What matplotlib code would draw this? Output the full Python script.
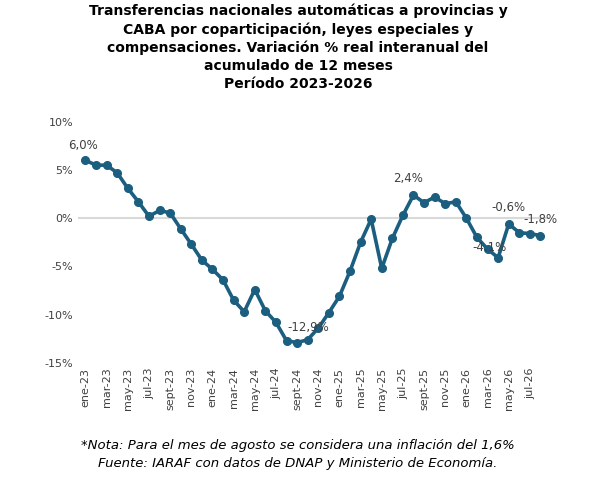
import numpy as np
import matplotlib.pyplot as plt
from matplotlib.ticker import FuncFormatter

meses = ["ene", "feb", "mar", "abr", "may", "jun", "jul", "ago", "sept", "oct", "nov", "dic"]
fechas = [f"{m}-{a}" for a in ["23", "24", "25", "26"] for m in meses][:44]
valores = [6.0, 5.5, 5.5, 4.7, 3.1, 1.7, 0.2, 0.8, 0.55, -1.1, -2.7, -4.35,
           -5.3, -6.4, -8.5, -9.7, -7.4, -9.6, -10.8, -12.7, -12.9, -12.6, -11.4, -9.8,
           -8.1, -5.5, -2.5, -0.1, -5.2, -2.1, 0.3, 2.4, 1.6, 2.2, 1.5, 1.7,
           0.0, -2.0, -3.2, -4.1, -0.6, -1.5, -1.6, -1.8]
etiquetas = {0: "6,0%", 20: "-12,9%", 31: "2,4%", 39: "-4,1%", 40: "-0,6%", 43: "-1,8%"}
desplaz = {0: (-2, 6), 20: (8, 6), 31: (-4, 7), 39: (-6, 3), 40: (0, 7), 43: (0, 7)}

color = "#1b5e80"
fig = plt.figure(figsize=(5.96, 4.93), dpi=100)
ax = fig.add_axes([0.131, 0.264, 0.79, 0.489])
x = np.arange(len(valores))
ax.plot(x, valores, color=color, lw=2.6, marker="o", ms=5.5, zorder=3)
ax.axhline(0, color="#d9d9d9", lw=1.5, zorder=1)
for i, t in etiquetas.items():
    dx, dy = desplaz[i]
    ax.annotate(t, (x[i], valores[i]), xytext=(dx, dy), textcoords="offset points",
                ha="center", va="bottom", fontsize=8.5, color="#404040")

ax.set_ylim(-15, 10)
ax.set_yticks([-15, -10, -5, 0, 5, 10])
ax.yaxis.set_major_formatter(FuncFormatter(lambda v, p: f"{int(v)}%"))
ax.set_xlim(-0.7, len(valores) - 0.2)
ax.set_xticks(x[::2])
ax.set_xticklabels(fechas[::2], rotation=90, fontsize=8, color="#404040")
ax.tick_params(axis="y", labelsize=8, colors="#404040", length=0)
ax.tick_params(axis="x", length=0)
for s in ax.spines.values():
    s.set_visible(False)

fig.text(0.5, 0.992, "Transferencias nacionales automáticas a provincias y\n"
         "CABA por coparticipación, leyes especiales y\n"
         "compensaciones. Variación % real interanual del\n"
         "acumulado de 12 meses\nPeríodo 2023-2026",
         ha="center", va="top", fontsize=10, fontweight="bold", linespacing=1.35)
fig.text(0.5, 0.078, "*Nota: Para el mes de agosto se considera una inflación del 1,6%\n"
         "Fuente: IARAF con datos de DNAP y Ministerio de Economía.",
         ha="center", va="center", fontsize=9.5, style="italic", linespacing=1.45)
fig.savefig("out.png", dpi=100)
